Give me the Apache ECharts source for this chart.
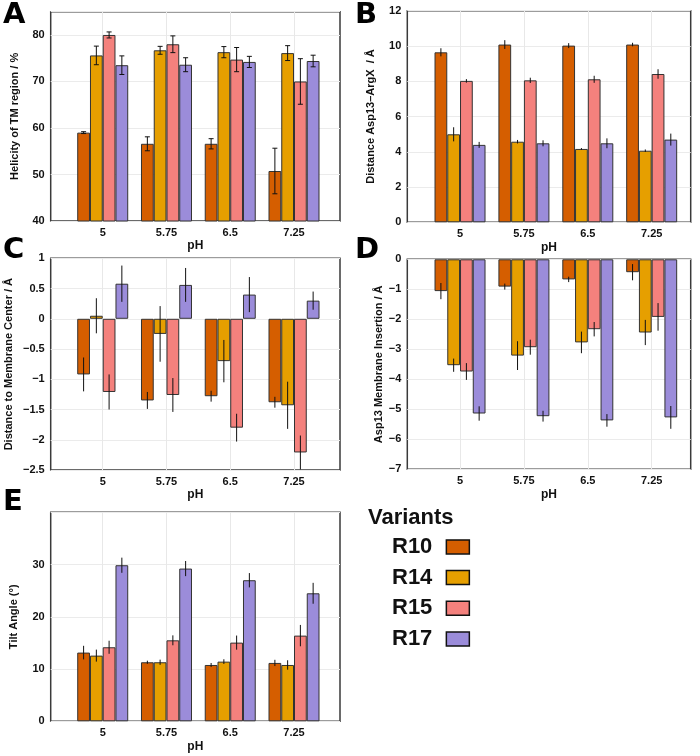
<!DOCTYPE html>
<html>
<head>
<meta charset="utf-8">
<script src="https://cdn.jsdelivr.net/npm/echarts@6/dist/echarts.min.js"></script>
<style>html,body{margin:0;padding:0;background:#fff;}#c{width:700px;height:756px;}</style>
</head>
<body>
<div id="c"></div>
<script>
// ---- data ----
const phValues = [5, 5.75, 6.5, 7.25];
const variants = ['R10', 'R14', 'R15', 'R17'];
const colors = ['#d55e00', '#e69f00', '#f4817d', '#9b8cda'];

// rows = variants (R10, R14, R15, R17), columns = pH
const helicityMean = [[59.0, 56.6, 56.6, 50.75], [75.6, 76.7, 76.3, 76.1], [80.0, 78.0, 74.7, 70.0], [73.5, 73.6, 74.2, 74.4]];
const helicityErr  = [[0.2, 1.5, 1.1, 4.9], [2.0, 0.85, 1.2, 1.6], [0.65, 1.8, 2.6, 4.9], [2.0, 1.5, 1.2, 1.25]];

const distArgMean = [[9.64, 10.08, 10.02, 10.08], [4.99, 4.57, 4.16, 4.06], [8.02, 8.05, 8.11, 8.41], [4.39, 4.48, 4.48, 4.69]];
const distArgErr  = [[0.23, 0.25, 0.14, 0.1], [0.4, 0.1, 0.05, 0.07], [0.1, 0.15, 0.2, 0.27], [0.17, 0.17, 0.28, 0.34]];

const centerMean = [[-0.92, -1.35, -1.28, -1.38], [0.05, -0.25, -0.70, -1.43], [-1.21, -1.26, -1.80, -2.21], [0.58, 0.56, 0.40, 0.30]];
const centerErr  = [[0.28, 0.14, 0.09, 0.09], [0.29, 0.46, 0.35, 0.39], [0.29, 0.28, 0.23, 0.28], [0.30, 0.28, 0.29, 0.15]];

const insertMean = [[-1.06, -0.91, -0.67, -0.43], [-3.53, -3.21, -2.77, -2.44], [-3.74, -2.93, -2.33, -1.92], [-5.14, -5.23, -5.37, -5.27]];
const insertErr  = [[0.27, 0.10, 0.09, 0.27], [0.22, 0.48, 0.36, 0.42], [0.28, 0.25, 0.24, 0.46], [0.24, 0.18, 0.21, 0.38]];

const tiltMean = [[13.15, 11.3, 10.78, 11.17], [12.57, 11.3, 11.42, 10.78], [14.17, 15.5, 15.06, 16.4], [29.87, 29.23, 27.0, 24.5]];
const tiltErr  = [[1.3, 0.3, 0.38, 0.6], [1.15, 0.5, 0.45, 0.9], [1.25, 0.95, 1.35, 2.04], [1.45, 1.45, 1.37, 2.0]];

const yTitles = ['Helicity of TM region / %', 'Distance Asp13\u2013ArgX  / \u00c5', 'Distance to Membrane Center / \u00c5', 'Asp13 Membrane Insertion / \u00c5', 'Tilt Angle (\u00b0)'];
const panelLetters = ['A', 'B', 'C', 'D', 'E'];

// ---- layout ----
const FONT = 'Liberation Sans, Arial, sans-serif';
const BW = 12.75;
const panels = [
  {mean: helicityMean, err: helicityErr, grid: {left: 50.7, top: 11.7, width: 289.3, height: 209.3}, x: [4.388, 7.791], y: [40, 85, 10], nameGap: 30, cap: true, letter: [3, 1]},
  {mean: distArgMean, err: distArgErr, grid: {left: 407.3, top: 10.7, width: 283.4, height: 211.6}, x: [4.381, 7.708], y: [0, 12, 2], nameGap: 31, cap: false, letter: [355, 1]},
  {mean: centerMean, err: centerErr, grid: {left: 50.7, top: 258.3, width: 289.3, height: 211.7}, x: [4.388, 7.791], y: [-2.5, 1, 0.5], nameGap: 36, cap: false, letter: [3, 236]},
  {mean: insertMean, err: insertErr, grid: {left: 407.3, top: 259.3, width: 283.4, height: 210}, x: [4.381, 7.708], y: [-7, 0, 1], nameGap: 22, cap: false, letter: [355, 236]},
  {mean: tiltMean, err: tiltErr, grid: {left: 50.7, top: 512.3, width: 289.3, height: 209}, x: [4.388, 7.791], y: [0, 40, 10], nameGap: 31, cap: false, letter: [3, 488]}
];

const grids = [], xAxes = [], yAxes = [], series = [], graphics = [];
panels.forEach((p, gi) => {
  grids.push(Object.assign({show: true, borderColor: '#3a3a3a', borderWidth: 1.5, backgroundColor: 'transparent', containLabel: false}, p.grid));
  xAxes.push({
    type: 'value', gridIndex: gi, min: p.x[0], max: p.x[1],
    name: 'pH', nameLocation: 'middle', nameGap: 19,
    nameTextStyle: {fontFamily: FONT, fontWeight: 'bold', fontSize: 12, color: '#111'},
    axisLine: {show: false},
    axisTick: {show: false, customValues: phValues},
    axisLabel: {customValues: phValues, fontFamily: FONT, fontWeight: 'bold', fontSize: 11, color: '#111', margin: 6,
      formatter: v => String(v)},
    splitLine: {show: true, lineStyle: {color: '#e8e8e8', width: 1}}
  });
  yAxes.push({
    type: 'value', gridIndex: gi, min: p.y[0], max: p.y[1], interval: p.y[2],
    name: yTitles[gi], nameLocation: 'middle', nameRotate: 90, nameGap: p.nameGap,
    nameTextStyle: {fontFamily: FONT, fontWeight: 'bold', fontSize: 11, color: '#111'},
    axisLine: {show: false}, axisTick: {show: false},
    axisLabel: {fontFamily: FONT, fontWeight: 'bold', fontSize: 11, color: '#111', margin: 6, showMaxLabel: gi === 1 || gi === 2 || gi === 3,
      formatter: v => (Math.abs(v / p.y[2] - Math.round(v / p.y[2])) > 1e-6) ? '' : String(v).replace('-', '\u2212')},
    splitLine: {show: true, lineStyle: {color: '#ebebeb', width: 1}}
  });
  variants.forEach((name, k) => {
    series.push({
      type: 'bar', name: name, xAxisIndex: gi, yAxisIndex: gi,
      barWidth: BW, barGap: '0%',
      itemStyle: {color: colors[k], borderColor: '#333', borderWidth: 1},
      data: phValues.map((x, j) => [x, p.mean[k][j]]),
      z: 2
    });
  });
  variants.forEach((name, k) => {
    series.push({
      type: 'custom', name: 'err-' + gi + '-' + k, xAxisIndex: gi, yAxisIndex: gi, z: 5, clip: true,
      data: phValues.map((x, j) => [x, p.mean[k][j], p.err[k][j]]),
      encode: {x: 0, y: 1},
      renderItem: function (params, api) {
        const x = api.value(0), v = api.value(1), e = api.value(2);
        const off = (k - 1.5) * BW;
        const lo = api.coord([x, v - e]), hi = api.coord([x, v + e]);
        const cx = lo[0] + off;
        const st = {stroke: '#111', lineWidth: 1};
        const ch = [{type: 'line', shape: {x1: cx, y1: lo[1], x2: cx, y2: hi[1]}, style: st}];
        if (p.cap) {
          ch.push({type: 'line', shape: {x1: cx - 2.5, y1: lo[1], x2: cx + 2.5, y2: lo[1]}, style: st});
          ch.push({type: 'line', shape: {x1: cx - 2.5, y1: hi[1], x2: cx + 2.5, y2: hi[1]}, style: st});
        }
        return {type: 'group', children: ch};
      }
    });
  });
  graphics.push({type: 'text', left: p.letter[0], top: p.letter[1],
    style: {text: panelLetters[gi], font: '900 29px "DejaVu Sans", sans-serif', fill: '#000'}});
});

const chart = echarts.init(document.getElementById('c'), null, {renderer: 'canvas'});
chart.setOption({
  animation: false,
  backgroundColor: '#fff',
  title: {text: 'Variants', left: 368, top: 507, padding: 0,
    textStyle: {fontFamily: FONT, fontWeight: 'bold', fontSize: 22, color: '#111'}},
  legend: {
    data: variants, orient: 'vertical', left: 392, top: 535.9, align: 'right', icon: 'rect',
    itemWidth: 23, itemHeight: 14, itemGap: 8.7, padding: 0, selectedMode: false,
    textStyle: {fontFamily: FONT, fontWeight: 'bold', fontSize: 22, color: '#111', padding: [0, 9, 0, 0]},
    itemStyle: {borderColor: '#111', borderWidth: 1.5}
  },
  grid: grids, xAxis: xAxes, yAxis: yAxes, series: series, graphic: graphics
});
</script>
</body>
</html>
